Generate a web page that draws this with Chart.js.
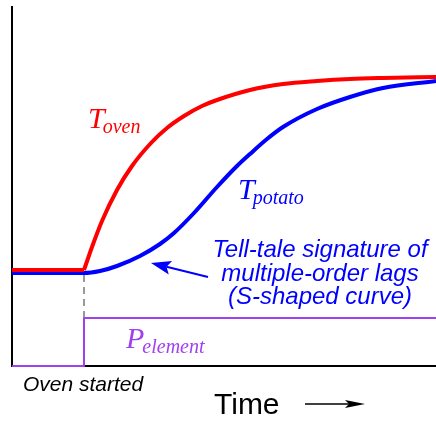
<!DOCTYPE html>
<html>
<head>
<meta charset="utf-8">
<script src="https://cdn.jsdelivr.net/npm/chart.js@4/dist/chart.umd.min.js"></script>
<style>
  body { margin: 0; background: #ffffff; }
  canvas { display: block; }
</style>
</head>
<body>
<canvas id="ovenChart" width="436" height="421"></canvas>
<script>
// time runs 0..424, temperature 0..360 (arbitrary units)
const ovenStart = 72;

const ovenFlatTime = [0, 72];
const ovenFlatTemp = [96, 96];

const ovenTime = [72, 80, 90, 105, 120, 139, 155, 172, 190, 205, 238, 271, 305, 338, 371, 424];
const ovenTemp = [96, 119, 145, 176, 200, 223, 238, 250, 260, 266, 276, 282, 285, 287, 288, 289];

const potatoTime = [0, 72, 88, 105, 128, 148, 162, 182, 205, 225, 238, 255, 271, 305, 338, 371, 424];
const potatoTemp = [93, 93, 95, 100, 110, 122, 133, 153, 179, 200, 212, 227, 239, 257, 269, 278, 285];

const powerTime = [0, 72, 72, 424];
const powerLevel = [0, 0, 48, 48];

const markerTemp = [91, 48]; // gray dashed line at oven start

function toPoints(xs, ys) {
    return xs.map((x, i) => ({ x: x, y: ys[i] }));
}

// --- annotations: axes, labels, arrows ---
function arrow(ctx, x1, y1, x2, y2, color, width, headLen, headHalf) {
    const ang = Math.atan2(y2 - y1, x2 - x1);
    ctx.save();
    ctx.strokeStyle = color;
    ctx.fillStyle = color;
    ctx.lineWidth = width;
    ctx.beginPath();
    ctx.moveTo(x1, y1);
    ctx.lineTo(x2 - Math.cos(ang) * headLen * 0.8, y2 - Math.sin(ang) * headLen * 0.8);
    ctx.stroke();
    ctx.translate(x2, y2);
    ctx.rotate(ang);
    ctx.beginPath();
    ctx.moveTo(0, 0);
    ctx.lineTo(-headLen, -headHalf);
    ctx.lineTo(-headLen * 0.8, 0);
    ctx.lineTo(-headLen, headHalf);
    ctx.closePath();
    ctx.fill();
    ctx.restore();
}

function subLabel(ctx, main, sub, x, y, color, mainSize, subSize, subDrop) {
    ctx.fillStyle = color;
    ctx.textAlign = 'left';
    ctx.textBaseline = 'alphabetic';
    ctx.font = `italic ${mainSize}px "Liberation Serif", "DejaVu Serif", serif`;
    ctx.fillText(main, x, y);
    const w = ctx.measureText(main).width;
    ctx.font = `italic ${subSize}px "Liberation Serif", "DejaVu Serif", serif`;
    ctx.fillText(sub, x + w - 2, y + subDrop);
}

const axesPlugin = {
    id: 'axesLines',
    beforeDatasetsDraw(chart) {
        const { ctx, chartArea: { left, right, top, bottom } } = chart;
        ctx.save();
        ctx.strokeStyle = '#000000';
        ctx.lineWidth = 2;
        ctx.beginPath();
        ctx.moveTo(left, top);
        ctx.lineTo(left, bottom);
        ctx.lineTo(right, bottom);
        ctx.stroke();
        ctx.restore();
    }
};

const labelsPlugin = {
    id: 'textLabels',
    afterDraw(chart) {
        const ctx = chart.ctx;
        ctx.save();

        subLabel(ctx, 'T', 'oven', 88, 128, '#ff0000', 30, 20, 5);
        subLabel(ctx, 'T', 'potato', 238, 199, '#0000ff', 30, 20, 5);
        subLabel(ctx, 'P', 'element', 126, 348, '#a040f0', 30, 20, 5);

        ctx.fillStyle = '#0000ff';
        ctx.textAlign = 'center';
        ctx.font = 'italic 24px "Liberation Sans", Arial, sans-serif';
        ctx.fillText('Tell-tale signature of', 320, 257);
        ctx.fillText('multiple-order lags', 320, 281);
        ctx.fillText('(S-shaped curve)', 320, 304);

        arrow(ctx, 208, 277, 151, 263, '#0000ff', 2, 20, 7);

        ctx.fillStyle = '#000000';
        ctx.textAlign = 'left';
        ctx.font = 'italic 21px "Liberation Sans", Arial, sans-serif';
        ctx.fillText('Oven started', 23, 391);

        ctx.font = '30px "Liberation Sans", Arial, sans-serif';
        ctx.fillText('Time', 214, 414);
        arrow(ctx, 305, 404, 365, 404, '#000000', 1.5, 20, 4);

        ctx.restore();
    }
};

Chart.register(axesPlugin, labelsPlugin);

const ctx1 = document.querySelector('#ovenChart').getContext('2d');

const chart1 = new Chart(ctx1, {
    type: 'line',
    data: {
        datasets: [
            {
                label: 'T oven (flat)',
                data: toPoints(ovenFlatTime, ovenFlatTemp),
                borderColor: '#ff0000',
                borderWidth: 4,
                tension: 0
            },
            {
                label: 'T oven',
                data: toPoints(ovenTime, ovenTemp),
                borderColor: '#ff0000',
                borderWidth: 4,
                cubicInterpolationMode: 'monotone'
            },
            {
                label: 'T potato',
                data: toPoints(potatoTime, potatoTemp),
                borderColor: '#0000ff',
                borderWidth: 4,
                cubicInterpolationMode: 'monotone'
            },
            {
                label: 'P element',
                data: toPoints(powerTime, powerLevel),
                borderColor: '#a040f0',
                borderWidth: 2,
                tension: 0
            },
            {
                label: 'oven start',
                data: toPoints([ovenStart, ovenStart], markerTemp),
                borderColor: '#999999',
                borderWidth: 2,
                borderDash: [7, 5],
                tension: 0
            }
        ]
    },
    options: {
        responsive: false,
        animation: false,
        events: [],
        layout: { padding: { left: 12, right: 0, top: 6, bottom: 55 } },
        elements: {
            point: { radius: 0 },
            line: { fill: false, borderCapStyle: 'butt', borderJoinStyle: 'round' }
        },
        datasets: { line: { clip: false } },
        scales: {
            x: { type: 'linear', display: false, min: 0, max: 424 },
            y: { type: 'linear', display: false, min: 0, max: 360 }
        },
        plugins: {
            legend: { display: false },
            tooltip: { enabled: false },
            title: { display: false }
        }
    }
});
</script>
</body>
</html>
